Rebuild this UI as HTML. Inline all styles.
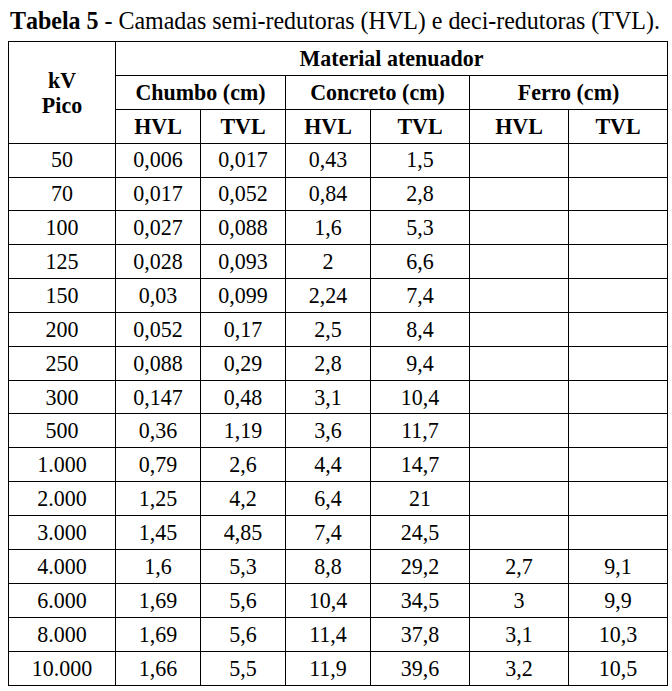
<!DOCTYPE html>
<html><head><meta charset="utf-8"><style>
html,body{margin:0;padding:0;background:#fff;}
body{width:672px;height:691px;position:relative;overflow:hidden;font-family:"Liberation Serif",serif;color:#000;}
i{position:absolute;background:#000;display:block;}
.c{position:absolute;height:22px;text-align:center;font-size:22px;line-height:22px;white-space:nowrap;transform:scaleY(1.08);transform-origin:50% 18px;}
.b{font-weight:bold;}
.t{position:absolute;left:10px;top:9px;font-size:24px;line-height:24px;white-space:nowrap;font-kerning:none;letter-spacing:-0.02px;transform:scaleY(1.04);transform-origin:0 20px;}
</style></head><body>
<div class="t"><b>Tabela 5</b> - Camadas semi-redutoras (HVL) e deci-redutoras (TVL).</div>
<i style="left:8px;top:41px;width:660px;height:1px"></i><i style="left:115px;top:75px;width:553px;height:1px"></i><i style="left:115px;top:109px;width:553px;height:1px"></i><i style="left:8px;top:143px;width:660px;height:1px"></i><i style="left:8px;top:177px;width:660px;height:1px"></i><i style="left:8px;top:210px;width:660px;height:1px"></i><i style="left:8px;top:244px;width:660px;height:1px"></i><i style="left:8px;top:278px;width:660px;height:1px"></i><i style="left:8px;top:312px;width:660px;height:1px"></i><i style="left:8px;top:346px;width:660px;height:1px"></i><i style="left:8px;top:380px;width:660px;height:1px"></i><i style="left:8px;top:413px;width:660px;height:1px"></i><i style="left:8px;top:447px;width:660px;height:1px"></i><i style="left:8px;top:481px;width:660px;height:1px"></i><i style="left:8px;top:515px;width:660px;height:1px"></i><i style="left:8px;top:549px;width:660px;height:1px"></i><i style="left:8px;top:583px;width:660px;height:1px"></i><i style="left:8px;top:617px;width:660px;height:1px"></i><i style="left:8px;top:651px;width:660px;height:1px"></i><i style="left:8px;top:685px;width:660px;height:1px"></i><i style="left:8px;top:41px;width:1px;height:645px"></i><i style="left:115px;top:41px;width:1px;height:645px"></i><i style="left:667px;top:41px;width:1px;height:645px"></i><i style="left:200px;top:109px;width:1px;height:577px"></i><i style="left:285px;top:75px;width:1px;height:611px"></i><i style="left:370px;top:109px;width:1px;height:577px"></i><i style="left:469px;top:75px;width:1px;height:611px"></i><i style="left:568px;top:109px;width:1px;height:577px"></i>
<div class="c b" style="left:9px;top:70px;width:106px">kV</div><div class="c b" style="left:9px;top:95px;width:106px">Pico</div><div class="c b" style="left:116px;top:48px;width:551px">Material atenuador</div><div class="c b" style="left:116px;top:82px;width:169px">Chumbo (cm)</div><div class="c b" style="left:286px;top:82px;width:183px">Concreto (cm)</div><div class="c b" style="left:470px;top:82px;width:197px">Ferro (cm)</div><div class="c b" style="left:116px;top:116px;width:84px">HVL</div><div class="c b" style="left:201px;top:116px;width:84px">TVL</div><div class="c b" style="left:286px;top:116px;width:84px">HVL</div><div class="c b" style="left:371px;top:116px;width:98px">TVL</div><div class="c b" style="left:470px;top:116px;width:98px">HVL</div><div class="c b" style="left:569px;top:116px;width:98px">TVL</div><div class="c" style="left:9px;top:149px;width:106px">50</div><div class="c" style="left:116px;top:149px;width:84px">0,006</div><div class="c" style="left:201px;top:149px;width:84px">0,017</div><div class="c" style="left:286px;top:149px;width:84px">0,43</div><div class="c" style="left:371px;top:149px;width:98px">1,5</div><div class="c" style="left:9px;top:183px;width:106px">70</div><div class="c" style="left:116px;top:183px;width:84px">0,017</div><div class="c" style="left:201px;top:183px;width:84px">0,052</div><div class="c" style="left:286px;top:183px;width:84px">0,84</div><div class="c" style="left:371px;top:183px;width:98px">2,8</div><div class="c" style="left:9px;top:217px;width:106px">100</div><div class="c" style="left:116px;top:217px;width:84px">0,027</div><div class="c" style="left:201px;top:217px;width:84px">0,088</div><div class="c" style="left:286px;top:217px;width:84px">1,6</div><div class="c" style="left:371px;top:217px;width:98px">5,3</div><div class="c" style="left:9px;top:251px;width:106px">125</div><div class="c" style="left:116px;top:251px;width:84px">0,028</div><div class="c" style="left:201px;top:251px;width:84px">0,093</div><div class="c" style="left:286px;top:251px;width:84px">2</div><div class="c" style="left:371px;top:251px;width:98px">6,6</div><div class="c" style="left:9px;top:285px;width:106px">150</div><div class="c" style="left:116px;top:285px;width:84px">0,03</div><div class="c" style="left:201px;top:285px;width:84px">0,099</div><div class="c" style="left:286px;top:285px;width:84px">2,24</div><div class="c" style="left:371px;top:285px;width:98px">7,4</div><div class="c" style="left:9px;top:319px;width:106px">200</div><div class="c" style="left:116px;top:319px;width:84px">0,052</div><div class="c" style="left:201px;top:319px;width:84px">0,17</div><div class="c" style="left:286px;top:319px;width:84px">2,5</div><div class="c" style="left:371px;top:319px;width:98px">8,4</div><div class="c" style="left:9px;top:353px;width:106px">250</div><div class="c" style="left:116px;top:353px;width:84px">0,088</div><div class="c" style="left:201px;top:353px;width:84px">0,29</div><div class="c" style="left:286px;top:353px;width:84px">2,8</div><div class="c" style="left:371px;top:353px;width:98px">9,4</div><div class="c" style="left:9px;top:387px;width:106px">300</div><div class="c" style="left:116px;top:387px;width:84px">0,147</div><div class="c" style="left:201px;top:387px;width:84px">0,48</div><div class="c" style="left:286px;top:387px;width:84px">3,1</div><div class="c" style="left:371px;top:387px;width:98px">10,4</div><div class="c" style="left:9px;top:420px;width:106px">500</div><div class="c" style="left:116px;top:420px;width:84px">0,36</div><div class="c" style="left:201px;top:420px;width:84px">1,19</div><div class="c" style="left:286px;top:420px;width:84px">3,6</div><div class="c" style="left:371px;top:420px;width:98px">11,7</div><div class="c" style="left:9px;top:454px;width:106px">1.000</div><div class="c" style="left:116px;top:454px;width:84px">0,79</div><div class="c" style="left:201px;top:454px;width:84px">2,6</div><div class="c" style="left:286px;top:454px;width:84px">4,4</div><div class="c" style="left:371px;top:454px;width:98px">14,7</div><div class="c" style="left:9px;top:488px;width:106px">2.000</div><div class="c" style="left:116px;top:488px;width:84px">1,25</div><div class="c" style="left:201px;top:488px;width:84px">4,2</div><div class="c" style="left:286px;top:488px;width:84px">6,4</div><div class="c" style="left:371px;top:488px;width:98px">21</div><div class="c" style="left:9px;top:522px;width:106px">3.000</div><div class="c" style="left:116px;top:522px;width:84px">1,45</div><div class="c" style="left:201px;top:522px;width:84px">4,85</div><div class="c" style="left:286px;top:522px;width:84px">7,4</div><div class="c" style="left:371px;top:522px;width:98px">24,5</div><div class="c" style="left:9px;top:556px;width:106px">4.000</div><div class="c" style="left:116px;top:556px;width:84px">1,6</div><div class="c" style="left:201px;top:556px;width:84px">5,3</div><div class="c" style="left:286px;top:556px;width:84px">8,8</div><div class="c" style="left:371px;top:556px;width:98px">29,2</div><div class="c" style="left:470px;top:556px;width:98px">2,7</div><div class="c" style="left:569px;top:556px;width:98px">9,1</div><div class="c" style="left:9px;top:590px;width:106px">6.000</div><div class="c" style="left:116px;top:590px;width:84px">1,69</div><div class="c" style="left:201px;top:590px;width:84px">5,6</div><div class="c" style="left:286px;top:590px;width:84px">10,4</div><div class="c" style="left:371px;top:590px;width:98px">34,5</div><div class="c" style="left:470px;top:590px;width:98px">3</div><div class="c" style="left:569px;top:590px;width:98px">9,9</div><div class="c" style="left:9px;top:624px;width:106px">8.000</div><div class="c" style="left:116px;top:624px;width:84px">1,69</div><div class="c" style="left:201px;top:624px;width:84px">5,6</div><div class="c" style="left:286px;top:624px;width:84px">11,4</div><div class="c" style="left:371px;top:624px;width:98px">37,8</div><div class="c" style="left:470px;top:624px;width:98px">3,1</div><div class="c" style="left:569px;top:624px;width:98px">10,3</div><div class="c" style="left:9px;top:658px;width:106px">10.000</div><div class="c" style="left:116px;top:658px;width:84px">1,66</div><div class="c" style="left:201px;top:658px;width:84px">5,5</div><div class="c" style="left:286px;top:658px;width:84px">11,9</div><div class="c" style="left:371px;top:658px;width:98px">39,6</div><div class="c" style="left:470px;top:658px;width:98px">3,2</div><div class="c" style="left:569px;top:658px;width:98px">10,5</div>
</body></html>
